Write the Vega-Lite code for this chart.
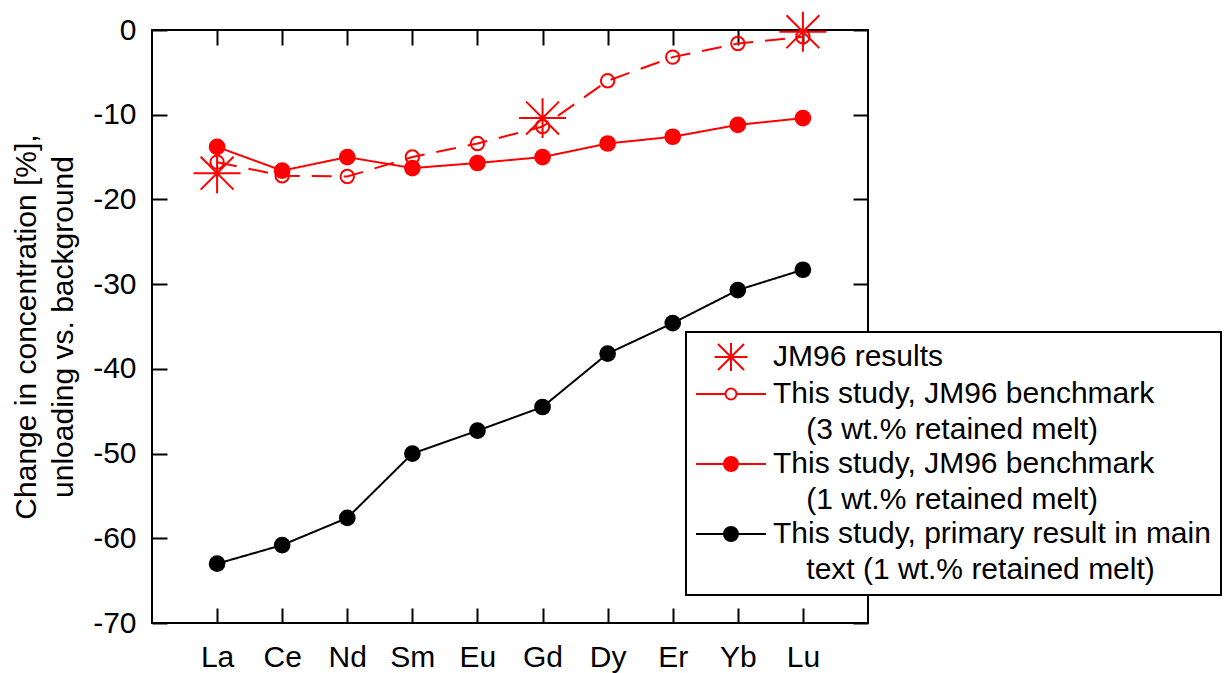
{
  "$schema": "https://vega.github.io/schema/vega-lite/v6.json",
  "width": 716,
  "height": 593,
  "autosize": {"type": "none"},
  "padding": {"left": 152, "top": 30, "right": 357, "bottom": 50},
  "background": "white",
  "config": {
    "font": "Liberation Sans",
    "view": {"stroke": "black", "strokeWidth": 2},
    "axis": {
      "domain": false,
      "grid": false,
      "ticks": true,
      "tickColor": "black",
      "tickWidth": 2,
      "tickSize": -15,
      "labelFont": "Liberation Sans",
      "labelFontSize": 30,
      "labelColor": "black",
      "titleFont": "Liberation Sans",
      "titleFontSize": 30,
      "titleFontWeight": "normal",
      "titleColor": "black"
    }
  },
  "data": {
    "values": [
      {"element": "La", "series": "This study, primary result in main text (1 wt.% retained melt)", "value": -63.0},
      {"element": "Ce", "series": "This study, primary result in main text (1 wt.% retained melt)", "value": -60.8},
      {"element": "Nd", "series": "This study, primary result in main text (1 wt.% retained melt)", "value": -57.6},
      {"element": "Sm", "series": "This study, primary result in main text (1 wt.% retained melt)", "value": -50.0},
      {"element": "Eu", "series": "This study, primary result in main text (1 wt.% retained melt)", "value": -47.3},
      {"element": "Gd", "series": "This study, primary result in main text (1 wt.% retained melt)", "value": -44.5},
      {"element": "Dy", "series": "This study, primary result in main text (1 wt.% retained melt)", "value": -38.2},
      {"element": "Er", "series": "This study, primary result in main text (1 wt.% retained melt)", "value": -34.6},
      {"element": "Yb", "series": "This study, primary result in main text (1 wt.% retained melt)", "value": -30.7},
      {"element": "Lu", "series": "This study, primary result in main text (1 wt.% retained melt)", "value": -28.3},
      {"element": "La", "series": "This study, JM96 benchmark (1 wt.% retained melt)", "value": -13.8},
      {"element": "Ce", "series": "This study, JM96 benchmark (1 wt.% retained melt)", "value": -16.6},
      {"element": "Nd", "series": "This study, JM96 benchmark (1 wt.% retained melt)", "value": -15.0},
      {"element": "Sm", "series": "This study, JM96 benchmark (1 wt.% retained melt)", "value": -16.3},
      {"element": "Eu", "series": "This study, JM96 benchmark (1 wt.% retained melt)", "value": -15.7},
      {"element": "Gd", "series": "This study, JM96 benchmark (1 wt.% retained melt)", "value": -15.0},
      {"element": "Dy", "series": "This study, JM96 benchmark (1 wt.% retained melt)", "value": -13.4},
      {"element": "Er", "series": "This study, JM96 benchmark (1 wt.% retained melt)", "value": -12.6},
      {"element": "Yb", "series": "This study, JM96 benchmark (1 wt.% retained melt)", "value": -11.2},
      {"element": "Lu", "series": "This study, JM96 benchmark (1 wt.% retained melt)", "value": -10.4},
      {"element": "La", "series": "This study, JM96 benchmark (3 wt.% retained melt)", "value": -15.6},
      {"element": "Ce", "series": "This study, JM96 benchmark (3 wt.% retained melt)", "value": -17.2},
      {"element": "Nd", "series": "This study, JM96 benchmark (3 wt.% retained melt)", "value": -17.3},
      {"element": "Sm", "series": "This study, JM96 benchmark (3 wt.% retained melt)", "value": -15.0},
      {"element": "Eu", "series": "This study, JM96 benchmark (3 wt.% retained melt)", "value": -13.4},
      {"element": "Gd", "series": "This study, JM96 benchmark (3 wt.% retained melt)", "value": -11.4},
      {"element": "Dy", "series": "This study, JM96 benchmark (3 wt.% retained melt)", "value": -6.0},
      {"element": "Er", "series": "This study, JM96 benchmark (3 wt.% retained melt)", "value": -3.2},
      {"element": "Yb", "series": "This study, JM96 benchmark (3 wt.% retained melt)", "value": -1.6},
      {"element": "Lu", "series": "This study, JM96 benchmark (3 wt.% retained melt)", "value": -0.8},
      {"element": "La", "series": "JM96 results", "value": -16.9},
      {"element": "Gd", "series": "JM96 results", "value": -10.4},
      {"element": "Lu", "series": "JM96 results", "value": -0.2}
    ]
  },
  "layer": [
    {
      "transform": [{"filter": "datum.series !== 'JM96 results'"}],
      "mark": {"type": "line", "strokeWidth": 2},
      "encoding": {
        "x": {
          "field": "element",
          "type": "ordinal",
          "sort": ["La", "Ce", "Nd", "Sm", "Eu", "Gd", "Dy", "Er", "Yb", "Lu"],
          "scale": {"type": "point", "padding": 1, "domain": ["La", "Ce", "Nd", "Sm", "Eu", "Gd", "Dy", "Er", "Yb", "Lu"]},
          "axis": {"orient": "bottom", "title": null, "labelAngle": 0, "labelPadding": 34, "labelBaseline": "top"}
        },
        "y": {
          "field": "value",
          "type": "quantitative",
          "scale": {"domain": [-70, 0], "nice": false, "zero": false},
          "axis": {
            "orient": "left",
            "values": [-70, -60, -50, -40, -30, -20, -10, 0],
            "labelExpr": "'' + datum.value",
            "labelPadding": 31,
            "title": ["Change in concentration [%],", "unloading vs. background"],
            "titleLineHeight": 37,
            "titlePadding": 14
          }
        },
        "stroke": {
          "field": "series",
          "type": "nominal",
          "scale": {
            "domain": ["JM96 results", "This study, JM96 benchmark (3 wt.% retained melt)", "This study, JM96 benchmark (1 wt.% retained melt)", "This study, primary result in main text (1 wt.% retained melt)"],
            "range": ["#ff0000", "#ff0000", "#ff0000", "#000000"]
          },
          "legend": {
            "title": null,
            "orient": "none",
            "legendX": 534,
            "legendY": 302,
            "direction": "vertical",
            "padding": 10,
            "strokeColor": "black",
            "fillColor": "white",
            "labelFont": "Liberation Sans",
            "labelFontSize": 30,
            "labelColor": "black",
            "labelLimit": 1000,
            "labelOffset": 27,
            "symbolOffset": 20,
            "labelBaseline": "middle",
            "symbolSize": 400,
            "symbolStrokeWidth": 2,
            "rowPadding": 4,
            "labelExpr": "datum.value === 'This study, JM96 benchmark (3 wt.% retained melt)' ? ['This study, JM96 benchmark', '\u200b\u00a0\u00a0\u00a0\u00a0(3 wt.% retained melt)'] : datum.value === 'This study, JM96 benchmark (1 wt.% retained melt)' ? ['This study, JM96 benchmark', '\u200b\u00a0\u00a0\u00a0\u00a0(1 wt.% retained melt)'] : datum.value === 'This study, primary result in main text (1 wt.% retained melt)' ? ['This study, primary result in main', '\u200b\u00a0\u00a0\u00a0\u00a0text (1 wt.% retained melt)'] : datum.label",
            "encode": {
              "symbols": {
                "update": {
                  "shape": {"signal": "datum.value === 'JM96 results' ? 'M-1.65,0L1.65,0M0,-1.4L0,1.4M-1.3,-1.3L1.3,1.3M-1.3,1.3L1.3,-1.3' : datum.value === 'This study, JM96 benchmark (3 wt.% retained melt)' ? 'M-3.5,0L-0.55,0M0.55,0L3.5,0M-0.55,0A0.55,0.55,0,1,1,0.55,0A0.55,0.55,0,1,1,-0.55,0Z' : 'M-3.5,0L3.5,0M-0.7,0A0.7,0.7,0,1,1,0.7,0A0.7,0.7,0,1,1,-0.7,0Z'"},
                  "fill": {"signal": "datum.value === 'This study, JM96 benchmark (1 wt.% retained melt)' ? '#ff0000' : datum.value === 'This study, primary result in main text (1 wt.% retained melt)' ? '#000000' : 'transparent'"},
                  "size": {"value": 400},
                  "strokeWidth": {"value": 2},
                  "opacity": {"value": 1}
                }
              },
              "labels": {
                "update": {
                  "lineHeight": {"value": 36}
                }
              },
              "legend": {
                "update": {"strokeWidth": {"value": 2}}
              }
            }
          }
        },
        "strokeDash": {
          "field": "series",
          "type": "nominal",
          "scale": {
            "domain": ["This study, JM96 benchmark (3 wt.% retained melt)", "This study, JM96 benchmark (1 wt.% retained melt)", "This study, primary result in main text (1 wt.% retained melt)"],
            "range": [[20, 12], [1, 0], [1, 0]]
          },
          "legend": null
        }
      }
    },
    {
      "transform": [{"filter": "datum.series === 'This study, JM96 benchmark (1 wt.% retained melt)' || datum.series === 'This study, primary result in main text (1 wt.% retained melt)'"}],
      "mark": {"type": "point", "shape": "circle", "size": 279, "filled": false, "strokeWidth": 0, "opacity": 1},
      "encoding": {
        "x": {
          "field": "element",
          "type": "ordinal",
          "sort": ["La", "Ce", "Nd", "Sm", "Eu", "Gd", "Dy", "Er", "Yb", "Lu"],
          "scale": {"type": "point", "padding": 1, "domain": ["La", "Ce", "Nd", "Sm", "Eu", "Gd", "Dy", "Er", "Yb", "Lu"]},
          "axis": {"orient": "top", "title": null, "labels": false}
        },
        "y": {
          "field": "value",
          "type": "quantitative",
          "scale": {"domain": [-70, 0], "nice": false, "zero": false},
          "axis": {"orient": "right", "title": null, "labels": false, "values": [-70, -60, -50, -40, -30, -20, -10, 0]}
        },
        "fill": {
          "field": "series",
          "type": "nominal",
          "scale": {
            "domain": ["This study, JM96 benchmark (1 wt.% retained melt)", "This study, primary result in main text (1 wt.% retained melt)"],
            "range": ["#ff0000", "#000000"]
          },
          "legend": null
        }
      }
    },
    {
      "transform": [{"filter": "datum.series === 'This study, JM96 benchmark (3 wt.% retained melt)'"}],
      "mark": {"type": "point", "shape": "circle", "size": 180, "filled": false, "stroke": "#ff0000", "strokeWidth": 2, "opacity": 1},
      "encoding": {
        "x": {"field": "element", "type": "ordinal", "sort": ["La", "Ce", "Nd", "Sm", "Eu", "Gd", "Dy", "Er", "Yb", "Lu"], "axis": null},
        "y": {"field": "value", "type": "quantitative", "axis": null}
      }
    },
    {
      "transform": [{"filter": "datum.series === 'JM96 results'"}],
      "mark": {"type": "point", "shape": "M-1,0L1,0M0,-0.85L0,0.85M-0.7,-0.7L0.7,0.7M-0.7,0.7L0.7,-0.7", "size": 2209, "filled": false, "stroke": "#ff0000", "strokeWidth": 2, "opacity": 1},
      "encoding": {
        "x": {"field": "element", "type": "ordinal", "sort": ["La", "Ce", "Nd", "Sm", "Eu", "Gd", "Dy", "Er", "Yb", "Lu"], "axis": null},
        "y": {"field": "value", "type": "quantitative", "axis": null}
      }
    }
  ],
  "resolve": {"axis": {"x": "independent", "y": "independent"}}
}
